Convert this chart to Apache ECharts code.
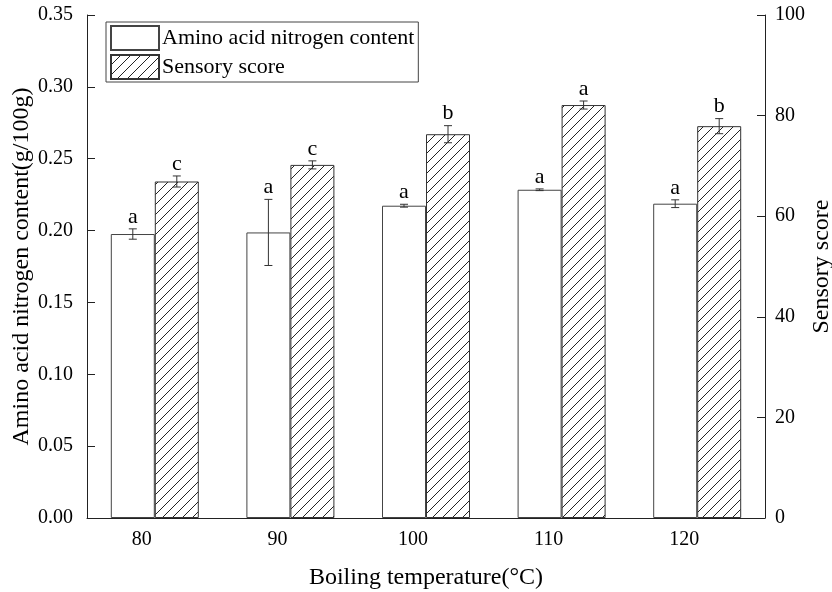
<!DOCTYPE html>
<html>
<head>
<meta charset="utf-8">
<script src="https://cdn.jsdelivr.net/npm/echarts@6/dist/echarts.min.js"></script>
<style>
html,body{margin:0;padding:0;background:#fff;}
#chart{width:832px;height:592px;}
</style>
</head>
<body>
<div id="chart"></div>
<script>
const categories = ['80', '90', '100', '110', '120'];
const aminoValues = [0.1976, 0.1987, 0.2173, 0.2284, 0.2187];
const aminoErrors = [0.0036, 0.023, 0.001, 0.0006, 0.0027];
const aminoLetters = ['a', 'a', 'a', 'a', 'a'];
const sensoryValues = [66.9, 70.2, 76.3, 82.1, 77.9];
const sensoryErrors = [1.1, 0.8, 1.7, 0.8, 1.5];
const sensoryLetters = ['c', 'c', 'b', 'a', 'b'];
const leftTicks = [0, 0.35, 0.05];
const rightTicks = [0, 100, 20];

const FONT = '"Liberation Serif", "Times New Roman", serif';
const BAR_W = 44;

function makeHatch() {
  const c = document.createElement('canvas');
  c.width = 10; c.height = 10;
  const g = c.getContext('2d');
  g.fillStyle = '#fff';
  g.fillRect(0, 0, 10, 10);
  g.strokeStyle = '#222';
  g.lineWidth = 1;
  g.beginPath();
  g.moveTo(-2, 12); g.lineTo(12, -2);
  g.moveTo(-2, 2); g.lineTo(2, -2);
  g.moveTo(8, 12); g.lineTo(12, 8);
  g.stroke();
  return c;
}
const hatch = {image: makeHatch(), repeat: 'repeat'};

function errData(vals, errs) {
  return vals.map((v, i) => [i, v, errs[i]]);
}

function errRender(offset, letters) {
  return function (params, api) {
    const i = api.value(0), v = api.value(1), e = api.value(2);
    const letter = letters[params.dataIndex];
    const x = api.coord([i, v])[0] + offset;
    const yTop = api.coord([i, v + e])[1];
    const yBot = api.coord([i, v - e])[1];
    const cap = 4;
    const ls = {stroke: '#333', lineWidth: 1};
    return {
      type: 'group',
      children: [
        {type: 'line', shape: {x1: x, y1: yTop, x2: x, y2: yBot}, style: ls},
        {type: 'line', shape: {x1: x - cap, y1: yTop, x2: x + cap, y2: yTop}, style: ls},
        {type: 'line', shape: {x1: x - cap, y1: yBot, x2: x + cap, y2: yBot}, style: ls},
        {type: 'text', style: {text: letter, x: x, y: yTop - 1, align: 'center', verticalAlign: 'bottom',
          fontSize: 22, fontFamily: FONT, fill: '#000'}}
      ]
    };
  };
}

const chart = echarts.init(document.getElementById('chart'), null, {renderer: 'canvas'});
chart.setOption({
  animation: false,
  backgroundColor: '#fff',
  textStyle: {fontFamily: FONT, color: '#000'},
  grid: {left: 87, right: 67, top: 15, bottom: 74, containLabel: false, outerBoundsMode: 'none'},
  legend: {
    orient: 'vertical', left: 106, top: 22,
    itemWidth: 48, itemHeight: 24, itemGap: 3,
    borderColor: '#444', borderWidth: 1, padding: [3, 4, 2, 4],
    textStyle: {fontSize: 22, fontFamily: FONT, color: '#000', padding: [0, 0, 0, -2]},
    data: [
      {name: 'Amino acid nitrogen content', icon: 'rect'},
      {name: 'Sensory score', icon: 'rect'}
    ]
  },
  xAxis: {
    type: 'category', data: categories,
    name: 'Boiling temperature(\u00B0C)', nameLocation: 'middle', nameGap: 48, nameMoveOverlap: false,
    nameTextStyle: {fontSize: 24, fontFamily: FONT, color: '#000'},
    axisLine: {lineStyle: {color: '#222', width: 1}},
    axisTick: {show: false},
    axisLabel: {fontSize: 20, fontFamily: FONT, color: '#000', margin: 12, padding: [0, 26, 0, 0]}
  },
  yAxis: [{
    type: 'value', min: leftTicks[0], max: leftTicks[1], interval: leftTicks[2],
    name: 'Amino acid nitrogen content(g/100g)', nameLocation: 'middle', nameGap: 53, nameMoveOverlap: false,
    nameTextStyle: {fontSize: 24, fontFamily: FONT, color: '#000'},
    axisLine: {show: true, lineStyle: {color: '#222', width: 1}},
    axisTick: {show: true, inside: true, length: 8, lineStyle: {color: '#222'}},
    splitLine: {show: false},
    axisLabel: {fontSize: 20, fontFamily: FONT, color: '#000', margin: 14, formatter: v => v.toFixed(2)}
  }, {
    type: 'value', min: rightTicks[0], max: rightTicks[1], interval: rightTicks[2],
    name: 'Sensory score', nameLocation: 'middle', nameGap: 45, nameRotate: 90, nameMoveOverlap: false,
    nameTextStyle: {fontSize: 24, fontFamily: FONT, color: '#000'},
    axisLine: {show: true, lineStyle: {color: '#222', width: 1}},
    axisTick: {show: true, inside: true, length: 8, lineStyle: {color: '#222'}},
    splitLine: {show: false},
    axisLabel: {fontSize: 20, fontFamily: FONT, color: '#000', margin: 10}
  }],
  series: [{
    name: 'Amino acid nitrogen content', type: 'bar', yAxisIndex: 0,
    data: aminoValues, barWidth: BAR_W, barGap: '0%',
    itemStyle: {color: '#fff', borderColor: '#444', borderWidth: 1}
  }, {
    name: 'Sensory score', type: 'bar', yAxisIndex: 1,
    data: sensoryValues, barWidth: BAR_W, barGap: '0%',
    itemStyle: {color: hatch, borderColor: '#333', borderWidth: 1}
  }, {
    type: 'custom', yAxisIndex: 0, data: errData(aminoValues, aminoErrors),
    encode: {x: 0, y: 1}, renderItem: errRender(-BAR_W / 2, aminoLetters), z: 5, silent: true
  }, {
    type: 'custom', yAxisIndex: 1, data: errData(sensoryValues, sensoryErrors),
    encode: {x: 0, y: 1}, renderItem: errRender(BAR_W / 2, sensoryLetters), z: 5, silent: true
  }]
});
</script>
</body>
</html>
